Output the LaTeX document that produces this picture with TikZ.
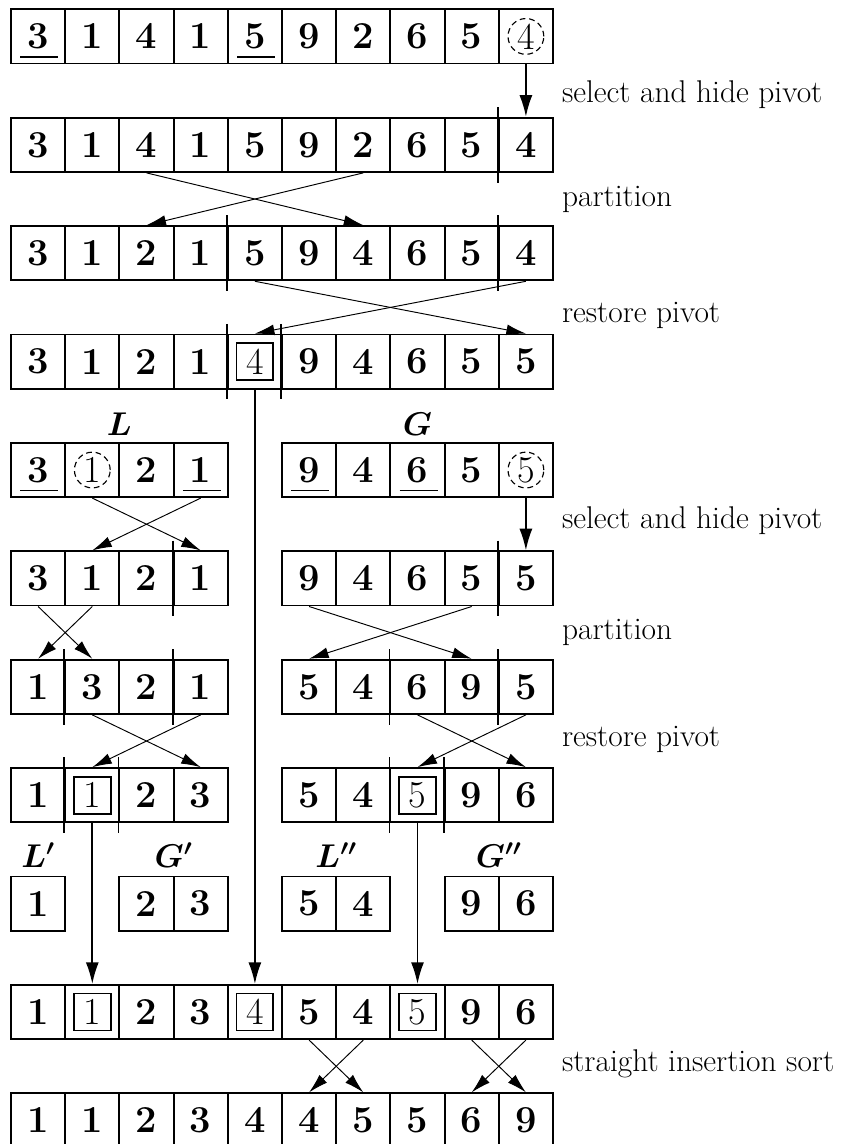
\documentclass[tikz,border=0pt]{standalone}
\usepackage{tikz}
\usetikzlibrary{arrows.meta}

% one row of cells: row, first column, values
\newcommand{\cellrow}[3]{%
  \foreach \v [count=\i from #2] in {#3}
    \node[cell] (r#1-\i) at (\i+0.5,-2*#1-0.5) {\v};}

\begin{document}
\begin{tikzpicture}[
  x=1cm, y=1cm,
  cell/.style={
    rectangle, draw, minimum size=1cm, inner sep=0pt,
    line width=1pt, font=\fontsize{20}{24}\selectfont\bfseries
  },
  note/.style={anchor=mid west, inner sep=0pt, font=\fontsize{16.5}{20}\selectfont},
  setname/.style={inner sep=0pt, font=\fontsize{16.5}{20}\selectfont\boldmath},
  swap/.style={-{Latex[length=0.36cm,width=0.2cm]}, line width=0.5pt},
  drop/.style={-{Latex[length=0.4cm,width=0.24cm]}, line width=0.9pt},
  tick/.style={line width=0.9pt},
  uline/.style={line width=1pt},
  ring/.style={densely dashed, line width=0.6pt}
]
\useasboundingbox (-0.203,0.172) rectangle (15.757,-20.935);

\cellrow{0}{0}{3,1,4,1,5,9,2,6,5,{\mdseries 4}}
\cellrow{1}{0}{3,1,4,1,5,9,2,6,5,4}
\cellrow{2}{0}{3,1,2,1,5,9,4,6,5,4}
\cellrow{3}{0}{3,1,2,1,{\mdseries 4},9,4,6,5,5}
% L and G
\cellrow{4}{0}{3,{\mdseries 1},2,1}
\cellrow{4}{5}{9,4,6,5,{\mdseries 5}}
\cellrow{5}{0}{3,1,2,1}
\cellrow{5}{5}{9,4,6,5,5}
\cellrow{6}{0}{1,3,2,1}
\cellrow{6}{5}{5,4,6,9,5}
\cellrow{7}{0}{1,{\mdseries 1},2,3}
\cellrow{7}{5}{5,4,{\mdseries 5},9,6}
% L', G', L'', G''
\cellrow{8}{0}{1}
\cellrow{8}{2}{2,3}
\cellrow{8}{5}{5,4}
\cellrow{8}{8}{9,6}
\cellrow{9}{0}{1,{\mdseries 1},2,3,{\mdseries 4},5,4,{\mdseries 5},9,6}
\cellrow{10}{0}{1,1,2,3,4,4,5,5,6,9}

\node[setname] (setL)  at (2,-7.65)   {$L$};
\node[setname] (setG)  at (7.5,-7.65) {$G$};
\node[setname] (setL1) at (0.5,-15.6) {$L'$};
\node[setname] (setG1) at (3,-15.6)   {$G'$};
\node[setname] (setL2) at (6,-15.6)   {$L''$};
\node[setname] (setG2) at (9,-15.6)   {$G''$};

\node[note] (hide1) at (10.16,-1.64)  {select and hide pivot};
\node[note] (part1) at (10.16,-3.56)  {partition};
\node[note] (rest1) at (10.16,-5.7)   {restore pivot};
\node[note] (hide2) at (10.16,-9.5)   {select and hide pivot};
\node[note] (part2) at (10.16,-11.55) {partition};
\node[note] (rest2) at (10.16,-13.52) {restore pivot};
\node[note] (sorts) at (10.16,-19.53) {straight insertion sort};

% marks
\foreach \n in {r0-0, r0-4, r4-0, r4-3, r4-5, r4-7}
  \draw[uline] ([xshift=-0.33cm,yshift=0.14cm]\n.south) -- ([xshift=0.37cm,yshift=0.14cm]\n.south);
\foreach \n in {r0-9, r4-1, r4-9}
  \draw[ring] (\n) circle (0.33);
\foreach \n in {r3-4, r7-1, r7-7, r9-1, r9-4, r9-7}
  \draw[tick] ([xshift=-0.34cm,yshift=-0.34cm]\n.center) rectangle ([xshift=0.34cm,yshift=0.34cm]\n.center);
\foreach \n in {r1-9, r2-4, r2-9, r3-4, r3-5, r5-3, r5-9, r6-1, r6-3, r6-7, r6-9, r7-1, r7-2, r7-7, r7-8}
  \draw[tick] ([yshift=0.18cm]\n.north west) -- ([yshift=-0.18cm]\n.south west);

% moves
\draw[drop] (r0-9.south) -- (r1-9.north);
\draw[swap] (r1-2.south) -- (r2-6.north);
\draw[swap] (r1-6.south) -- (r2-2.north);
\draw[swap] (r2-4.south) -- (r3-9.north);
\draw[swap] (r2-9.south) -- (r3-4.north);
\draw[drop] (r4-9.south) -- (r5-9.north);
\draw[swap] (r4-1.south) -- (r5-3.north);
\draw[swap] (r4-3.south) -- (r5-1.north);
\draw[swap] (r5-0.south) -- (r6-1.north);
\draw[swap] (r5-1.south) -- (r6-0.north);
\draw[swap] (r5-5.south) -- (r6-8.north);
\draw[swap] (r5-8.south) -- (r6-5.north);
\draw[swap] (r6-1.south) -- (r7-3.north);
\draw[swap] (r6-3.south) -- (r7-1.north);
\draw[swap] (r6-7.south) -- (r7-9.north);
\draw[swap] (r6-9.south) -- (r7-7.north);
\draw[drop] (r7-1.south) -- (r9-1.north);
\draw[drop] (r3-4.south) -- (r9-4.north);
\draw[drop] (r7-7.south) -- (r9-7.north);
\draw[swap] (r9-5.south) -- (r10-6.north);
\draw[swap] (r9-6.south) -- (r10-5.north);
\draw[swap] (r9-8.south) -- (r10-9.north);
\draw[swap] (r9-9.south) -- (r10-8.north);
\end{tikzpicture}
\end{document}
